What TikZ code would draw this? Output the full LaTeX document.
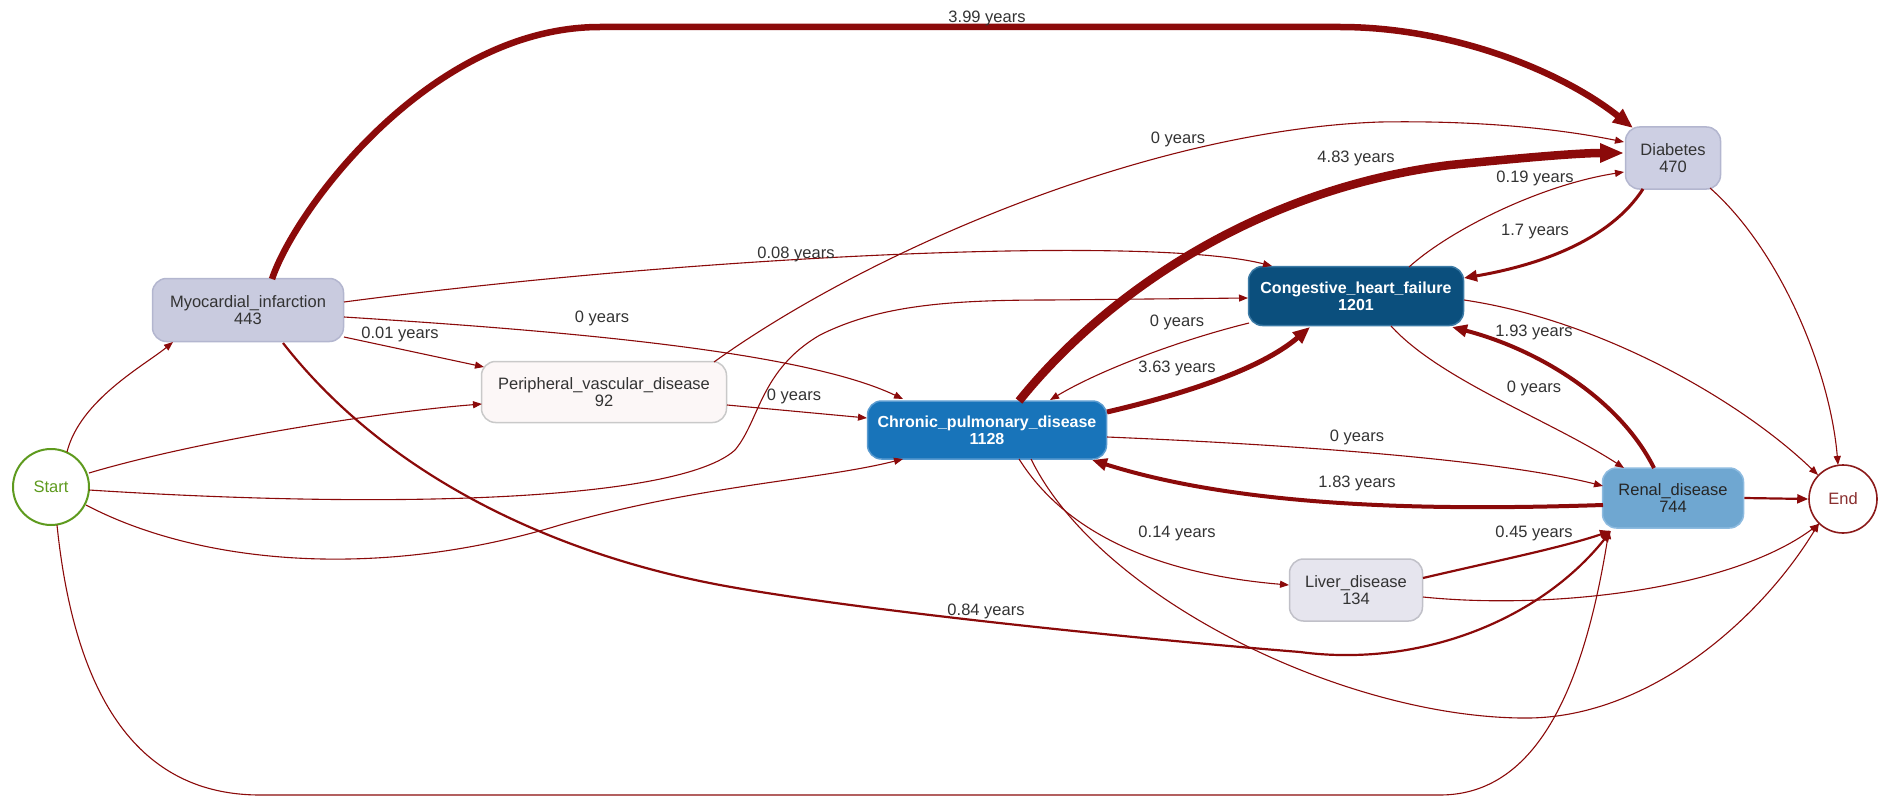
\documentclass[tikz,border=0pt]{standalone}
\usepackage{fontspec}
\setmainfont{Liberation Sans}
\usetikzlibrary{arrows.meta,calc}
\definecolor{edgec}{HTML}{8B0A0A}
\definecolor{lblc}{HTML}{333333}
\definecolor{miF}{HTML}{C9CBDF}
\definecolor{miB}{HTML}{B3B6CF}
\definecolor{diaF}{HTML}{CDCFE3}
\definecolor{pvdF}{HTML}{FCF7F7}
\definecolor{pvdB}{HTML}{C9C9C9}
\definecolor{livF}{HTML}{E6E5EE}
\definecolor{livB}{HTML}{C0C0C8}
\definecolor{cpdF}{HTML}{1874BA}
\definecolor{cpdB}{HTML}{5A9BD0}
\definecolor{chfF}{HTML}{0B4F7D}
\definecolor{chfB}{HTML}{3B7AA5}
\definecolor{renF}{HTML}{6FA7D1}
\definecolor{renB}{HTML}{8DBBE0}
\definecolor{startc}{HTML}{5E9A1E}
\definecolor{endc}{HTML}{8B1A1A}
\tikzset{
  nfont/.style={font=\fontsize{16.5}{17}\selectfont},
  box/.style={nfont, draw, line width=1.5pt, rounded corners=14pt, align=center, inner sep=0pt, text=lblc},
  lbl/.style={nfont, text=lblc, inner sep=0pt},
  eA/.style={draw=edgec, line width=1.1pt, -{Triangle[length=9pt,width=7pt]}},
  eB/.style={draw=edgec, line width=2.2pt, -{Triangle[length=11pt,width=9pt]}},
  eC/.style={draw=edgec, line width=3pt, -{Triangle[length=13pt,width=11pt]}},
  eD/.style={draw=edgec, line width=4pt, -{Triangle[length=15pt,width=12pt]}},
  eE/.style={draw=edgec, line width=5pt, -{Triangle[length=17pt,width=14pt]}},
  eF/.style={draw=edgec, line width=6.5pt, -{Triangle[length=20pt,width=16pt]}},
  eG/.style={draw=edgec, line width=8.5pt, -{Triangle[length=24pt,width=18pt]}},
}
\begin{document}
\begin{tikzpicture}[x=1pt,y=-1pt]
\useasboundingbox (0,0) rectangle (1881,797);

% nodes
\node[nfont, circle, draw=startc, line width=2pt, text=startc, minimum size=76pt, inner sep=0pt] (S) at (51,487) {Start};
\node[nfont, circle, draw=endc, line width=1.6pt, text=endc!80!gray, minimum size=68pt, inner sep=0pt] (END) at (1843,499) {End};
\node[box, fill=miF, draw=miB, minimum width=191pt, minimum height=63pt] (MI) at (248,310) {Myocardial\_infarction\\443};
\node[box, fill=pvdF, draw=pvdB, minimum width=245pt, minimum height=61pt] (PVD) at (604,392) {Peripheral\_vascular\_disease\\92};
\node[box, fill=cpdF, draw=cpdB, minimum width=239pt, minimum height=58pt, text=white, font=\fontsize{16}{17}\selectfont\bfseries] (CPD) at (987,430) {Chronic\_pulmonary\_disease\\1128};
\node[box, fill=chfF, draw=chfB, minimum width=215pt, minimum height=59pt, text=white, font=\fontsize{16}{17}\selectfont\bfseries] (CHF) at (1356,296) {Congestive\_heart\_failure\\1201};
\node[box, fill=diaF, draw=miB, minimum width=95pt, minimum height=62pt] (DIA) at (1673,158) {Diabetes\\470};
\node[box, fill=renF, draw=renB, minimum width=141pt, minimum height=60pt, text=black!85] (REN) at (1673,498) {Renal\_disease\\744};
\node[box, fill=livF, draw=livB, minimum width=133pt, minimum height=62pt] (LIV) at (1356,590) {Liver\_disease\\134};

% edges from Start
\draw[eA] ($(S.center)+(16,-35)$) .. controls (80,400) and (145,365) .. ($(MI.center)+(-75,32)$);
\draw[eA] ($(S.center)+(38,-14)$) .. controls (200,440) and (380,412) .. ($(PVD.center)+(-122,12)$);
\draw[eA] ($(S.center)+(38,3)$) .. controls (400,510) and (680,500) .. (735,450) .. controls (760,420) and (760,370) .. (820,335) .. controls (880,305) and (950,300) .. (1050,300) -- ($(CHF.center)+(-108,2)$);
\draw[eA] ($(S.center)+(35,18)$) .. controls (200,565) and (380,580) .. (560,525) .. controls (700,485) and (820,480) .. ($(CPD.center)+(-84,29)$);
\draw[eA] ($(S.center)+(6,38)$) .. controls (75,700) and (140,795) .. (260,795) -- (1440,795) .. controls (1540,795) and (1585,680) .. ($(REN.center)+(-64,32)$);

% edges from MI
\draw[eF] ($(MI.center)+(24,-31)$) .. controls (295,210) and (430,27) .. (600,27) -- (1340,27) .. controls (1450,27) and (1560,70) .. ($(DIA.center)+(-40,-30)$);
\draw[eA] ($(MI.center)+(96,-8)$) .. controls (700,255) and (1150,235) .. ($(CHF.center)+(-84,-30)$);
\draw[eA] ($(MI.center)+(96,7)$) .. controls (550,330) and (800,350) .. ($(CPD.center)+(-84,-31)$);
\draw[eA] ($(MI.center)+(96,27)$) -- ($(PVD.center)+(-120,-25)$);
\draw[eB] ($(MI.center)+(35,33)$) .. controls (390,480) and (560,555) .. (720,585) .. controls (860,611) and (1150,640) .. (1300,652) .. controls (1420,668) and (1540,620) .. ($(REN.center)+(-62,33)$);

% edges from PVD
\draw[eA] ($(PVD.center)+(110,-30)$) .. controls (870,250) and (1150,130) .. (1380,122) .. controls (1500,120) and (1580,133) .. ($(DIA.center)+(-49,-16)$);
\draw[eA] ($(PVD.center)+(123,13)$) -- ($(CPD.center)+(-120,-12)$);

% edges from CPD
\draw[eG] ($(CPD.center)+(32,-29)$) .. controls (1100,300) and (1250,190) .. (1450,165) .. controls (1530,157) and (1580,153) .. ($(DIA.center)+(-49,-5)$);
\draw[eE] ($(CPD.center)+(120,-18)$) .. controls (1180,395) and (1260,370) .. ($(CHF.center)+(-46,31)$);
\draw[eA] ($(CPD.center)+(120,7)$) .. controls (1300,445) and (1500,460) .. ($(REN.center)+(-70,-12)$);
\draw[eA] ($(CPD.center)+(32,29)$) .. controls (1070,540) and (1170,575) .. ($(LIV.center)+(-67,-5)$);
\draw[eA] ($(CPD.center)+(44,29)$) .. controls (1100,600) and (1350,720) .. (1530,718) .. controls (1650,716) and (1760,620) .. ($(END.center)+(-24,24)$);

% edges from CHF
\draw[eA] ($(CHF.center)+(-107,27)$) .. controls (1180,340) and (1100,370) .. ($(CPD.center)+(63,-30)$);
\draw[eA] ($(CHF.center)+(53,-29)$) .. controls (1450,230) and (1540,185) .. ($(DIA.center)+(-49,14)$);
\draw[eA] ($(CHF.center)+(35,30)$) .. controls (1440,380) and (1550,420) .. ($(REN.center)+(-49,-30)$);
\draw[eA] ($(CHF.center)+(108,4)$) .. controls (1600,320) and (1740,400) .. ($(END.center)+(-25,-24)$);

% edges from Diabetes
\draw[eC] ($(DIA.center)+(-30,31)$) .. controls (1610,240) and (1540,265) .. ($(CHF.center)+(108,-18)$);
\draw[eA] ($(DIA.center)+(37,30)$) .. controls (1780,250) and (1830,370) .. ($(END.center)+(-5,-34)$);

% edges from Renal
\draw[eD] ($(REN.center)+(-70,7)$) .. controls (1450,510) and (1250,510) .. ($(CPD.center)+(105,30)$);
\draw[eD] ($(REN.center)+(-19,-30)$) .. controls (1620,400) and (1540,350) .. ($(CHF.center)+(96,31)$);
\draw[eB] (REN.east) -- (END.west);

% edges from Liver
\draw[eB] ($(LIV.center)+(67,-12)$) .. controls (1500,560) and (1560,548) .. ($(REN.center)+(-62,33)$);
\draw[eA] ($(LIV.center)+(67,7)$) .. controls (1550,610) and (1730,590) .. ($(END.center)+(-24,25)$);

% labels
\node[lbl] (L1) at (987,18) {3.99 years};
\node[lbl] (L2) at (1178,139) {0 years};
\node[lbl] (L3) at (1356,158) {4.83 years};
\node[lbl] (L4) at (1535,178) {0.19 years};
\node[lbl] (L5) at (1535,232) {1.7 years};
\node[lbl] (L6) at (796,254) {0.08 years};
\node[lbl] (L7) at (602,318) {0 years};
\node[lbl] (L8) at (400,334) {0.01 years};
\node[lbl] (L9) at (1177,322) {0 years};
\node[lbl] (L10) at (1534,332) {1.93 years};
\node[lbl] (L11) at (1177,368) {3.63 years};
\node[lbl] (L12) at (1534,388) {0 years};
\node[lbl] (L13) at (794,396) {0 years};
\node[lbl] (L14) at (1357,437) {0 years};
\node[lbl] (L15) at (1357,483) {1.83 years};
\node[lbl] (L16) at (1177,533) {0.14 years};
\node[lbl] (L17) at (1534,533) {0.45 years};
\node[lbl] (L18) at (986,611) {0.84 years};
\end{tikzpicture}
\end{document}
